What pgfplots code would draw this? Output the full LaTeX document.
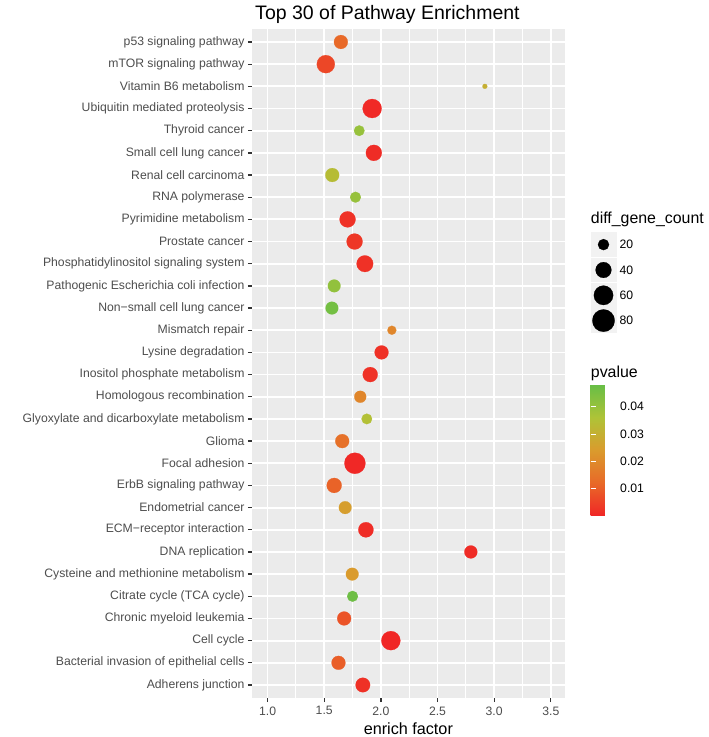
\documentclass[border=0pt]{standalone}
\usepackage{pgfplots}
\pgfplotsset{compat=1.18}
\usepackage{pgfplotstable}
\usepackage{fontspec}
\setmainfont{Liberation Sans}
\definecolor{panelbg}{HTML}{EBEBEB}
\definecolor{grey30}{HTML}{4D4D4D}
\definecolor{grey20}{HTML}{333333}
\definecolor{keybg}{HTML}{F2F2F2}
\newcommand{\ticksize}{\fontsize{12.2}{14}\selectfont}
\newcommand{\labsize}{\fontsize{16.2}{19}\selectfont}
\newcommand{\legtitlesize}{\fontsize{15.9}{19}\selectfont}
\newcommand{\titlesize}{\fontsize{19.5}{22}\selectfont}

% y = row (1 = bottom), x = enrich factor, cnt = diff_gene_count, p = pvalue
\pgfplotstableread{
y  x      cnt  p
30 1.647  31   0.012
29 1.514  52   0.006
28 2.918  4    0.030
27 1.923  58   0.0005
26 1.809  18   0.040
25 1.938  41   0.001
24 1.571  31   0.034
23 1.776  19   0.040
22 1.706  41   0.002
21 1.768  41   0.003
20 1.859  44   0.002
19 1.588  26   0.041
18 1.568  26   0.046
17 2.097  13   0.019
16 2.006  31   0.002
15 1.906  36   0.002
14 1.818  23   0.019
13 1.876  18   0.035
12 1.659  31   0.014
11 1.771  71   0.0003
10 1.588  36   0.011
9  1.685  26   0.025
8  1.868  37   0.001
7  2.794  27   0.001
6  1.747  26   0.024
5  1.750  19   0.047
4  1.676  31   0.008
3  2.088  58   0.0001
2  1.626  31   0.010
1  1.841  34   0.002
}\pathdata

\pgfplotstableread{
x     y      cnt
603.5 244.6  20
603.5 270.0  40
603.5 295.3  60
603.5 320.6  80
}\sizekeys

\begin{document}
\begin{tikzpicture}
\path[use as bounding box] (0,0) rectangle (709pt,737pt);
\begin{axis}[
  at={(251.7pt,38.7pt)}, anchor=south west,
  width=313.3pt, height=669.6pt, scale only axis,
  xmin=0.86, xmax=3.625, ymin=0.4, ymax=30.6,
  axis background/.style={fill=panelbg},
  axis line style={draw=none},
  grid=both,
  major grid style={white, line width=1.8pt},
  minor grid style={white, line width=0.9pt},
  xtick={1,1.5,2,2.5,3,3.5},
  minor xtick={1.25,1.75,2.25,2.75,3.25},
  ytick={1,...,30},
  yticklabels={{Adherens junction},{Bacterial invasion of epithelial cells},{Cell cycle},{Chronic myeloid leukemia},{Citrate cycle (TCA cycle)},{Cysteine and methionine metabolism},{DNA replication},{ECM−receptor interaction},{Endometrial cancer},{ErbB signaling pathway},{Focal adhesion},{Glioma},{Glyoxylate and dicarboxylate metabolism},{Homologous recombination},{Inositol phosphate metabolism},{Lysine degradation},{Mismatch repair},{Non−small cell lung cancer},{Pathogenic Escherichia coli infection},{Phosphatidylinositol signaling system},{Prostate cancer},{Pyrimidine metabolism},{RNA polymerase},{Renal cell carcinoma},{Small cell lung cancer},{Thyroid cancer},{Ubiquitin mediated proteolysis},{Vitamin B6 metabolism},{mTOR signaling pathway},{p53 signaling pathway}},
  tick pos=left, tick align=outside,
  major tick length=3.7pt, minor tick length=0pt,
  tick style={grey20, line width=1.3pt},
  /pgf/number format/assume math mode=true,
  xticklabel style={font=\ticksize, text=grey30, yshift=-1pt, /pgf/number format/fixed, /pgf/number format/precision=1, /pgf/number format/fixed zerofill},
  yticklabel style={font=\ticksize, text=grey30},
  xlabel={enrich factor},
  xlabel style={font=\labsize, text=black, yshift=-1pt},
  title={Top 30 of Pathway Enrichment},
  title style={font=\titlesize, at={(0,1)}, anchor=base west, yshift=3.5pt},
  colormap={pv}{rgb255(0cm)=(240,38,38); rgb255(1cm)=(232,105,40); rgb255(2cm)=(218,155,45); rgb255(3cm)=(175,195,55); rgb255(4cm)=(104,190,70)},
  point meta min=0, point meta max=0.048,
  colorbar,
  colorbar style={
    at={(1.082,0.4679)}, anchor=north west,
    width=26pt, height=130.7pt, scale only axis,
    ytick={0.01,0.02,0.03,0.04},
    scaled y ticks=false,
    axis line style={draw=none},
    tick align=inside, ytick pos=both, yticklabel pos=right,
    major tick length=5.2pt,
    tick style={white, line width=1pt},
    /pgf/number format/assume math mode=true,
    yticklabel style={font=\ticksize, text=black, /pgf/number format/fixed, /pgf/number format/precision=2, /pgf/number format/fixed zerofill},
  },
]
\addplot[scatter, only marks, mark=*,
  point meta=\thisrow{p},
  mark options={line width=0.2pt},
  scatter/use mapped color={draw=mapped color, fill=mapped color},
  visualization depends on={\thisrow{cnt}\as\cnt},
  scatter/@pre marker code/.append style={/tikz/mark size={1.26*sqrt(\cnt)-0.1}},
] table[x=x, y=y] {\pathdata};
\end{axis}

% legend overlay in image pixel coordinates
\begin{axis}[
  at={(0pt,0pt)}, anchor=south west,
  width=709pt, height=737pt, scale only axis,
  xmin=0, xmax=709, ymin=0, ymax=737, y dir=reverse,
  hide axis, clip=false,
]
\node[anchor=west, font=\legtitlesize, inner sep=0pt] at (axis cs:590.7,219) {diff\_gene\_count};
\fill[keybg] (axis cs:591,232.2) rectangle (axis cs:616.5,257.0);
\fill[keybg] (axis cs:591,257.6) rectangle (axis cs:616.5,282.4);
\fill[keybg] (axis cs:591,282.9) rectangle (axis cs:616.5,307.7);
\fill[keybg] (axis cs:591,308.2) rectangle (axis cs:616.5,333.0);
\addplot[scatter, only marks, mark=*,
  point meta=\thisrow{cnt},
  mark options={line width=0.2pt},
  scatter/use mapped color={draw=black, fill=black},
  visualization depends on={\thisrow{cnt}\as\cnt},
  scatter/@pre marker code/.append style={/tikz/mark size={1.26*sqrt(\cnt)-0.1}},
] table[x=x, y=y] {\sizekeys};
\node[anchor=west, font=\ticksize, inner sep=0pt] at (axis cs:619.5,244.6) {20};
\node[anchor=west, font=\ticksize, inner sep=0pt] at (axis cs:619.5,270.0) {40};
\node[anchor=west, font=\ticksize, inner sep=0pt] at (axis cs:619.5,295.3) {60};
\node[anchor=west, font=\ticksize, inner sep=0pt] at (axis cs:619.5,320.6) {80};
\node[anchor=west, font=\legtitlesize, inner sep=0pt] at (axis cs:590.7,373) {pvalue};
\end{axis}
\end{tikzpicture}
\end{document}
